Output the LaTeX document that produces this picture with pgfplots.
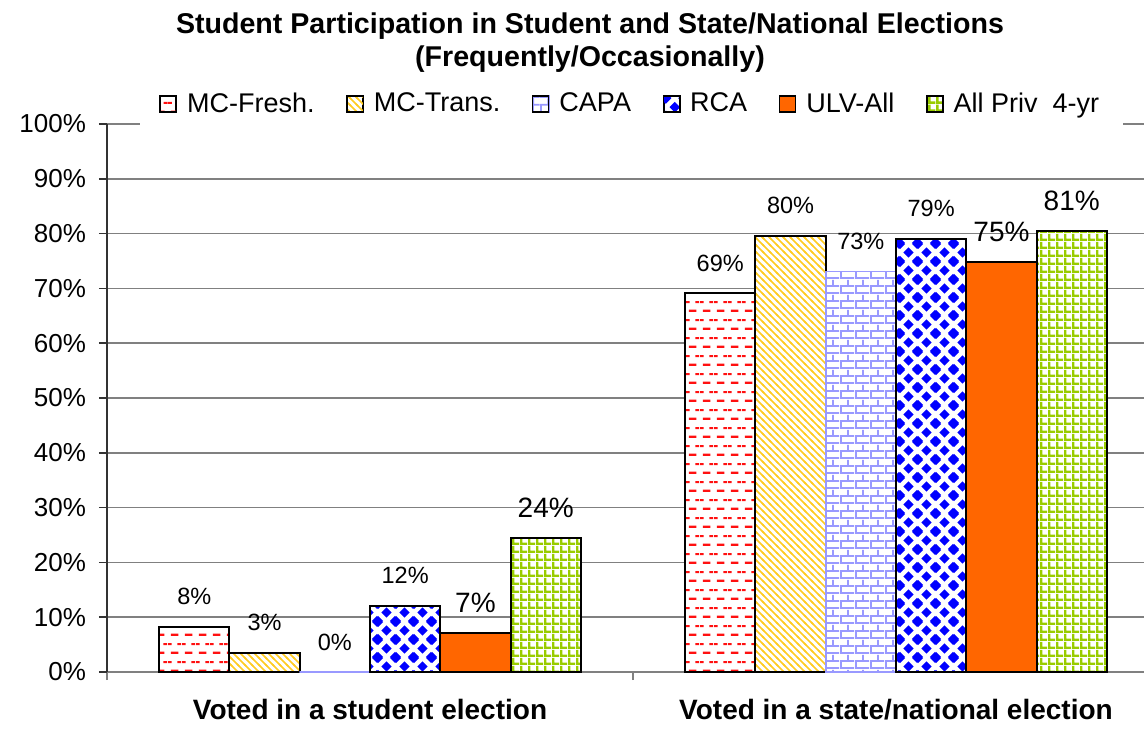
\documentclass[border=0pt]{standalone}
\usepackage{fontspec}
\setmainfont{Liberation Sans}
\usepackage{pgfplots}
\pgfplotsset{compat=1.18}
\usetikzlibrary{patterns}

\definecolor{gridgray}{HTML}{808080}
\definecolor{dashred}{HTML}{FF1010}
\definecolor{stripegold}{HTML}{FFCC22}
\definecolor{brickblue}{HTML}{9999FF}
\definecolor{rcablue}{HTML}{0000FF}
\definecolor{ulvorange}{HTML}{FF6600}
\definecolor{gridgreen}{HTML}{99CC00}

% fill patterns, roughly the Excel ones
\pgfdeclarepatternformonly{hdashes}{\pgfqpoint{0pt}{0pt}}{\pgfqpoint{7pt}{9pt}}{\pgfqpoint{7pt}{9pt}}{%
  \pgfsetlinewidth{1.1pt}%
  \pgfpathmoveto{\pgfqpoint{1.5pt}{2.25pt}}\pgfpathlineto{\pgfqpoint{5.5pt}{2.25pt}}%
  \pgfpathmoveto{\pgfqpoint{0pt}{6.75pt}}\pgfpathlineto{\pgfqpoint{2pt}{6.75pt}}%
  \pgfpathmoveto{\pgfqpoint{5pt}{6.75pt}}\pgfpathlineto{\pgfqpoint{7pt}{6.75pt}}%
  \pgfusepath{stroke}}
\pgfdeclarepatternformonly{nwstripes}{\pgfqpoint{-1pt}{-1pt}}{\pgfqpoint{4.5pt}{4.5pt}}{\pgfqpoint{3.5pt}{3.5pt}}{%
  \pgfsetlinewidth{0.85pt}%
  \pgfpathmoveto{\pgfqpoint{-0.5pt}{4pt}}\pgfpathlineto{\pgfqpoint{4pt}{-0.5pt}}%
  \pgfusepath{stroke}}
\pgfdeclarepatternformonly{capabricks}{\pgfqpoint{0pt}{0pt}}{\pgfqpoint{7.5pt}{7.5pt}}{\pgfqpoint{7.5pt}{7.5pt}}{%
  \pgfsetlinewidth{1pt}%
  \pgfpathmoveto{\pgfqpoint{0pt}{0.5pt}}\pgfpathlineto{\pgfqpoint{7.5pt}{0.5pt}}%
  \pgfpathmoveto{\pgfqpoint{0pt}{4.25pt}}\pgfpathlineto{\pgfqpoint{7.5pt}{4.25pt}}%
  \pgfpathmoveto{\pgfqpoint{0.5pt}{0pt}}\pgfpathlineto{\pgfqpoint{0.5pt}{4.25pt}}%
  \pgfpathmoveto{\pgfqpoint{4.25pt}{4.25pt}}\pgfpathlineto{\pgfqpoint{4.25pt}{7.5pt}}%
  \pgfusepath{stroke}}
\def\rcadiamond#1#2{%
  \pgfpathmoveto{\pgfpoint{#1}{#2-2.7pt}}%
  \pgfpathlineto{\pgfpoint{#1+2.7pt}{#2}}%
  \pgfpathlineto{\pgfpoint{#1}{#2+2.7pt}}%
  \pgfpathlineto{\pgfpoint{#1-2.7pt}{#2}}%
  \pgfpathclose}
\pgfdeclarepatternformonly{rcadiamonds}{\pgfqpoint{0pt}{0pt}}{\pgfqpoint{9pt}{9pt}}{\pgfqpoint{9pt}{9pt}}{%
  \rcadiamond{4.5pt}{4.5pt}%
  \rcadiamond{0pt}{0pt}\rcadiamond{9pt}{0pt}%
  \rcadiamond{0pt}{9pt}\rcadiamond{9pt}{9pt}%
  \pgfusepath{fill}}
\pgfdeclarepatternformonly{greengrid}{\pgfqpoint{0pt}{0pt}}{\pgfqpoint{4pt}{4pt}}{\pgfqpoint{4pt}{4pt}}{%
  \pgfsetlinewidth{1.4pt}%
  \pgfpathmoveto{\pgfqpoint{0.7pt}{0pt}}\pgfpathlineto{\pgfqpoint{0.7pt}{4pt}}%
  \pgfpathmoveto{\pgfqpoint{0pt}{0.7pt}}\pgfpathlineto{\pgfqpoint{4pt}{0.7pt}}%
  \pgfusepath{stroke}}

\begin{document}
\begin{tikzpicture}
\useasboundingbox (0,0) rectangle (572pt,364pt);
\begin{axis}[
  at={(53.5pt,28pt)}, anchor=south west,
  scale only axis, width=526pt, height=274pt,
  ybar=0pt, bar width=35.15pt,
  xmin=0.5, xmax=2.5, ymin=0, ymax=100,
  xtick={0.5,1.5,2.5}, x tick label as interval,
  xticklabels={Voted in a student election, Voted in a state/national election},
  xticklabel style={font=\fontsize{14}{16}\selectfont\bfseries, yshift=-6pt},
  ytick={0,10,...,100},
  yticklabel={\pgfmathprintnumber{\tick}\%},
  /pgf/number format/assume math mode=true,
  yticklabel style={font=\fontsize{13}{15}\selectfont, xshift=-3pt},
  tick align=outside, major tick length=4pt,
  xtick style={gridgray, line width=0.75pt},
  ytick style={black!80, line width=0.75pt},
  ymajorgrids, grid style={gridgray, line width=0.75pt},
  axis x line*=bottom, axis y line*=left,
  x axis line style={gridgray, line width=0.75pt},
  y axis line style={black!80, line width=0.75pt},
  title={Student Participation in Student and State/National Elections\\(Frequently/Occasionally)},
  title style={at={(0.4591,1.1825)}, anchor=north, inner sep=0pt, align=center,
    font=\fontsize{14.3}{16.5}\selectfont\bfseries},
  legend style={at={(0.4986,1.0365)}, anchor=center, draw=none, fill=white,
    font=\fontsize{13.5}{16}\selectfont, inner xsep=10pt, inner ysep=4pt,
    /tikz/every odd column/.append style={column sep=3pt},
    /tikz/every even column/.append style={column sep=14pt}},
  legend columns=-1,
  legend image code/.code={\draw[#1, draw=black, line width=0.6pt] (0pt,-4pt) rectangle (8pt,4pt);},
  nodes near coords, point meta=explicit symbolic,
  every node near coord/.append style={anchor=center, yshift=15pt, text=black,
    font=\fontsize{11.75}{13}\selectfont},
]
\addplot[draw=black, line width=1pt, preaction={fill=white}, pattern=hdashes, pattern color=dashred]
  coordinates {(1,8.3) [8\%] (2,69.1) [69\%]};
\addplot[draw=black, line width=1pt, preaction={fill=white}, pattern=nwstripes, pattern color=stripegold]
  coordinates {(1,3.5) [3\%] (2,79.6) [80\%]};
\addplot[draw=brickblue, line width=0.8pt, preaction={fill=white}, pattern=capabricks, pattern color=brickblue]
  coordinates {(1,0) [0\%] (2,73.1) [73\%]};
\addplot[draw=black, line width=1pt, preaction={fill=white}, pattern=rcadiamonds, pattern color=rcablue]
  coordinates {(1,12.1) [12\%] (2,79.1) [79\%]};
\addplot[draw=black, line width=1pt, fill=ulvorange,
  every node near coord/.append style={font=\fontsize{14}{16}\selectfont}]
  coordinates {(1,7.2) [7\%] (2,74.8) [75\%]};
\addplot[draw=black, line width=1pt, preaction={fill=white}, pattern=greengrid, pattern color=gridgreen,
  every node near coord/.append style={font=\fontsize{14}{16}\selectfont}]
  coordinates {(1,24.4) [24\%] (2,80.5) [81\%]};
\legend{MC-Fresh., MC-Trans., CAPA, RCA, ULV-All, All Priv\ \ 4-yr}
\end{axis}
\end{tikzpicture}
\end{document}
